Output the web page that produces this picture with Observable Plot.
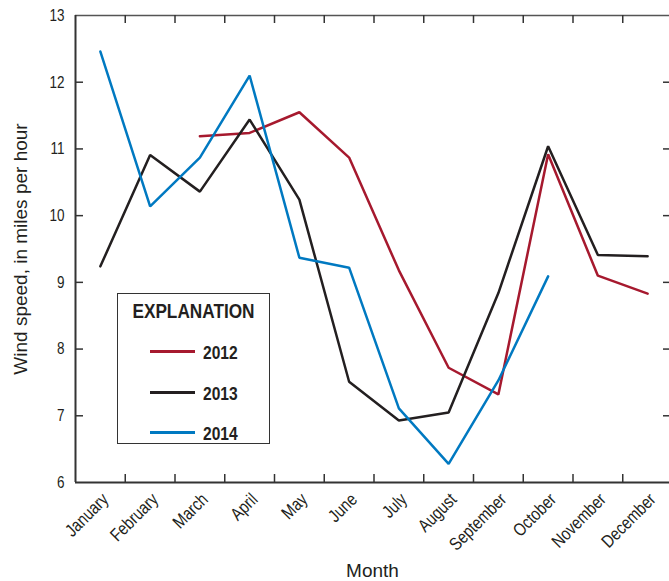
<!DOCTYPE html>
<html>
<head>
<meta charset="utf-8">
<script src="https://cdn.jsdelivr.net/npm/d3@7"></script>
<script src="https://cdn.jsdelivr.net/npm/@observablehq/plot@0.6"></script>
<style>
  html, body { margin: 0; padding: 0; background: #fff; overflow: hidden; }
  #wrap { position: relative; width: 669px; height: 581px; }
  #legend {
    position: absolute; left: 117px; top: 293px; width: 153px; height: 151px;
    border: 1.5px solid #333; box-sizing: border-box; background: #fff;
    font-family: "Liberation Sans", Arial, sans-serif;
    font-weight: bold; color: #231f20;
  }
  #legend .title { position: absolute; left: 0; right: 0; top: 5px; text-align: center; font-size: 21px; line-height: 24px; }
  #legend .title span { display: inline-block; transform: scaleX(0.82); transform-origin: center; }
  #legend .row { position: absolute; left: 32px; height: 20px; }
  #legend .sw { position: absolute; left: 0; top: 9px; width: 45px; height: 2.5px; }
  #legend .lb { position: absolute; left: 53px; top: 1px; font-size: 19px; line-height: 22px; transform: scaleX(0.82); transform-origin: left; }
</style>
</head>
<body>
<div id="wrap"></div>
<script>
(function () {
const months = ["January","February","March","April","May","June","July","August","September","October","November","December"];
const years = ["2012","2013","2014"];
const colors = ["#a6192e","#231f20","#0079c1"];
const v2012 = [null, null, 11.19, 11.24, 11.55, 10.87, 9.18, 7.72, 7.32, 10.92, 9.10, 8.83];
const v2013 = [9.24, 10.91, 10.36, 11.44, 10.24, 7.51, 6.93, 7.05, 8.84, 11.04, 9.41, 9.39];
const v2014 = [12.46, 10.14, 10.87, 12.10, 9.37, 9.22, 7.11, 6.28, 7.53, 9.09, null, null];
const yTicks = [6, 7, 8, 9, 10, 11, 12, 13];

const series = {"2012": v2012, "2013": v2013, "2014": v2014};
const data = [];
for (const yr of years) {
  series[yr].forEach((v, i) => { if (v != null) data.push({year: yr, i, v}); });
}

const xLo = -0.5, xHi = months.length - 0.5;
const yLo = yTicks[0], yHi = yTicks[yTicks.length - 1];
const pLeft = 75, pRight = 672, pTop = 15, pBottom = 482;
const pxX = (xHi - xLo) / (pRight - pLeft);
const pxY = (yHi - yLo) / (pBottom - pTop);
const bounds = months.slice(1).map((_, i) => i + 0.5);
const tickLen = 8;
const frameColor = "#333";
const font = '"Liberation Sans", Arial, sans-serif';

const chart = Plot.plot({
  width: 669,
  height: 581,
  marginLeft: pLeft, marginRight: 0, marginTop: pTop, marginBottom: 581 - pBottom,
  x: {domain: [xLo, xHi], range: [pLeft, pRight], axis: null},
  y: {domain: [yLo, yHi], range: [pBottom, pTop], axis: null},
  color: {domain: years, range: colors},
  style: {fontFamily: font, background: "#fff", color: "#231f20"},
  marks: [
    Plot.ruleY([yLo], {x1: xLo, x2: xHi, stroke: frameColor, strokeWidth: 2}),
    Plot.ruleY([yHi], {x1: xLo, x2: xHi, stroke: "#555", strokeWidth: 1.5}),
    Plot.ruleX([xLo], {y1: yLo, y2: yHi, stroke: frameColor, strokeWidth: 2}),
    Plot.ruleX([xHi], {y1: yLo, y2: yHi, stroke: "#555", strokeWidth: 1.5}),
    Plot.ruleX(bounds, {y1: yLo, y2: yLo + tickLen * pxY, stroke: frameColor, strokeWidth: 1.5}),
    Plot.ruleX(bounds, {y1: yHi, y2: yHi - tickLen * pxY, stroke: frameColor, strokeWidth: 1.5}),
    Plot.ruleY(yTicks.slice(1, -1), {x1: xLo, x2: xLo + tickLen * pxX, stroke: frameColor, strokeWidth: 1.5}),
    Plot.ruleY(yTicks.slice(1, -1), {x1: xHi, x2: xHi - 9 * pxX, stroke: frameColor, strokeWidth: 1.5}),
    Plot.text(yTicks, {x: xLo, y: d => d, text: d => String(d), textAnchor: "end", dx: -11, fontSize: 16.5, fill: "#231f20", className: "narrow"}),
    Plot.text(months, {x: (d, i) => i, y: yLo, text: d => d, rotate: -45, textAnchor: "end", lineAnchor: "middle", dx: 5, dy: 14, fontSize: 18, fill: "#231f20", className: "narrow"}),
    Plot.text(["Wind speed, in miles per hour"], {frameAnchor: "left", textAnchor: "middle", rotate: -90, dx: 20 - pLeft, fontSize: 19, fill: "#231f20"}),
    Plot.text(["Month"], {frameAnchor: "bottom", lineAnchor: "bottom", dy: 94, fontSize: 19, fill: "#231f20"}),
    Plot.line(data, {x: "i", y: "v", z: "year", stroke: "year", strokeWidth: 2.5, strokeLinejoin: "miter"})
  ]
});

// condense tick-label glyphs horizontally (narrow typeface look)
chart.querySelectorAll(".narrow text").forEach(el => {
  const t = el.getAttribute("transform");
  if (t) el.setAttribute("transform", t + " scale(0.82,1)");
});

const wrap = document.getElementById("wrap");
wrap.appendChild(chart);

const legend = document.createElement("div");
legend.id = "legend";
legend.innerHTML = '<div class="title"><span>EXPLANATION</span></div>';
const rowTops = [47, 88, 128];
years.forEach((yr, k) => {
  const row = document.createElement("div");
  row.className = "row";
  row.style.top = rowTops[k] + "px";
  row.innerHTML = `<div class="sw" style="background:${colors[k]}"></div><div class="lb">${yr}</div>`;
  legend.appendChild(row);
});
wrap.appendChild(legend);
})();
</script>
</body>
</html>
